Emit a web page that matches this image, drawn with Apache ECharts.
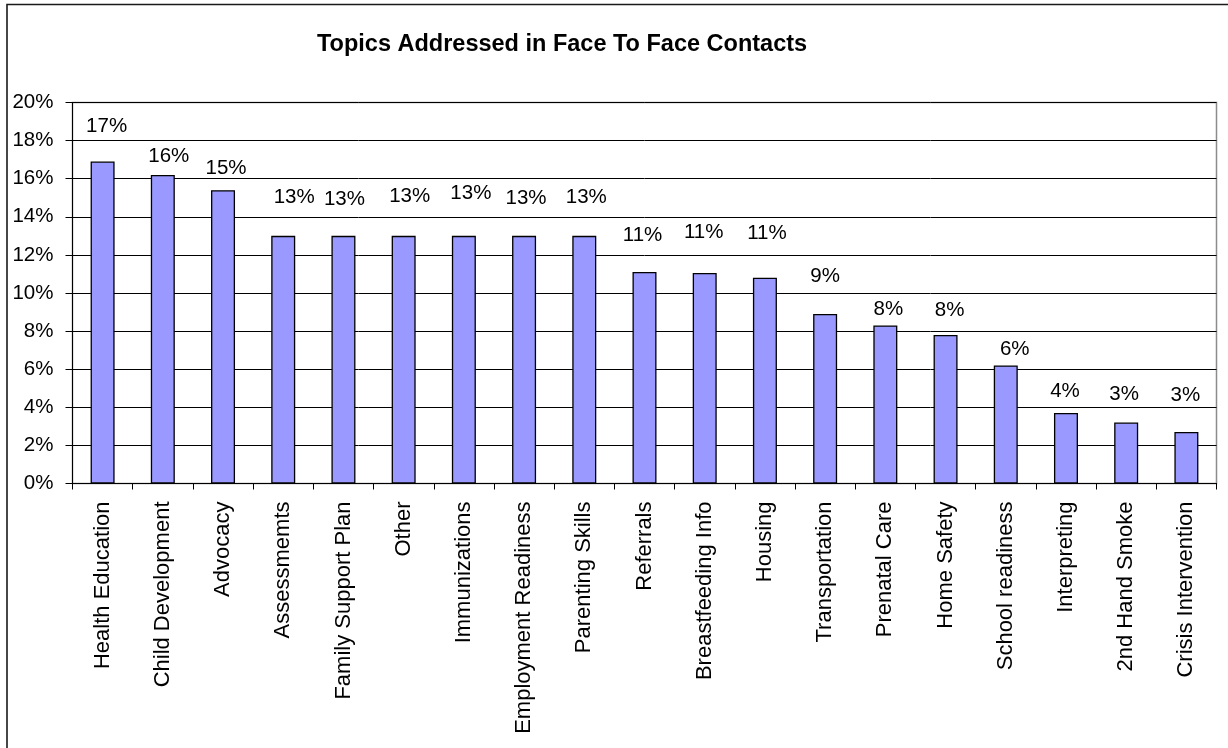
<!DOCTYPE html>
<html>
<head>
<meta charset="utf-8">
<title>Topics Addressed in Face To Face Contacts</title>
<script src="https://cdn.jsdelivr.net/npm/echarts@6/dist/echarts.min.js"></script>
<style>
  html, body { margin: 0; padding: 0; background: #fff; }
  #chart { width: 1228px; height: 748px; }
</style>
</head>
<body>
<div id="chart"></div>
<script>
// Share of face-to-face contacts addressing each topic (percent)
const topics = [
  'Health Education', 'Child Development', 'Advocacy', 'Assessmemts',
  'Family Support Plan', 'Other', 'Immunizations', 'Employment Readiness',
  'Parenting Skills', 'Referrals', 'Breastfeeding Info', 'Housing',
  'Transportation', 'Prenatal Care', 'Home Safety', 'School readiness',
  'Interpreting', '2nd Hand Smoke', 'Crisis Intervention'
];
const shares = [
  16.9, 16.2, 15.4, 13.0, 13.0, 13.0, 13.0, 13.0, 13.0,
  11.1, 11.05, 10.8, 8.9, 8.3, 7.8, 6.2, 3.7, 3.2, 2.7
];
const yTicks = [0, 2, 4, 6, 8, 10, 12, 14, 16, 18, 20];

// Hand-placed value labels: gap above each bar and sideways nudge (px)
const labelRise  = [25, 8, 11, 28, 26, 29, 32, 27, 28, 26, 30, 34, 27, 6, 14, 6, 11, 18, 26];
const labelShift = [4, 6, 3, 11, 1, 6, 7, 2, 2, -2, -1, 2, 0, 3, 4, 9, -1, -2, -1];

const font = '"Liberation Sans", Arial, Helvetica, sans-serif';

const chart = echarts.init(document.getElementById('chart'), null, { renderer: 'canvas' });

const barData = shares.map((v, i) => ({
  value: v,
  label: { distance: labelRise[i], offset: [labelShift[i], 0] }
}));

chart.setOption({
  animation: false,
  backgroundColor: '#ffffff',
  title: {
    text: 'Topics Addressed in Face To Face Contacts',
    left: 312,
    top: 28,
    textStyle: { fontFamily: font, fontSize: 23.5, fontWeight: 'bold', color: '#000' }
  },
  graphic: [{
    type: 'rect',
    shape: { x: 7, y: 4.5, width: 1240, height: 780 },
    style: { fill: 'none', stroke: '#1a1a1a', lineWidth: 1.6 },
    silent: true,
    z: 100
  }],
  grid: {
    left: 72.5,
    right: 11.5,
    top: 102.5,
    bottom: 264.5,
    show: true,
    borderColor: '#8c8c8c',
    borderWidth: 1.5,
    containLabel: false
  },
  xAxis: {
    type: 'category',
    data: topics,
    boundaryGap: true,
    axisLine: { show: true, lineStyle: { color: '#000', width: 1 } },
    axisTick: { show: true, alignWithLabel: false, length: 6, lineStyle: { color: '#000' } },
    axisLabel: {
      rotate: 90,
      interval: 0,
      margin: 18,
      fontFamily: font,
      fontSize: 22,
      color: '#000'
    },
    splitLine: { show: false }
  },
  yAxis: {
    type: 'value',
    min: yTicks[0],
    max: yTicks[yTicks.length - 1],
    interval: yTicks[1] - yTicks[0],
    axisLine: { show: true, lineStyle: { color: '#000', width: 1 } },
    axisTick: { show: true, inside: false, length: 7, lineStyle: { color: '#000' } },
    axisLabel: {
      margin: 19,
      fontFamily: font,
      fontSize: 20.5,
      color: '#000',
      formatter: v => v + '%'
    },
    splitLine: { show: true, lineStyle: { color: '#000', width: 1 } }
  },
  series: [{
    type: 'bar',
    data: barData,
    barWidth: 24,
    itemStyle: { color: '#9999ff', borderColor: '#000', borderWidth: 1.3 },
    label: {
      show: true,
      position: 'top',
      fontFamily: font,
      fontSize: 20.5,
      color: '#000',
      formatter: p => Math.round(p.value) + '%'
    }
  }]
});
</script>
</body>
</html>
